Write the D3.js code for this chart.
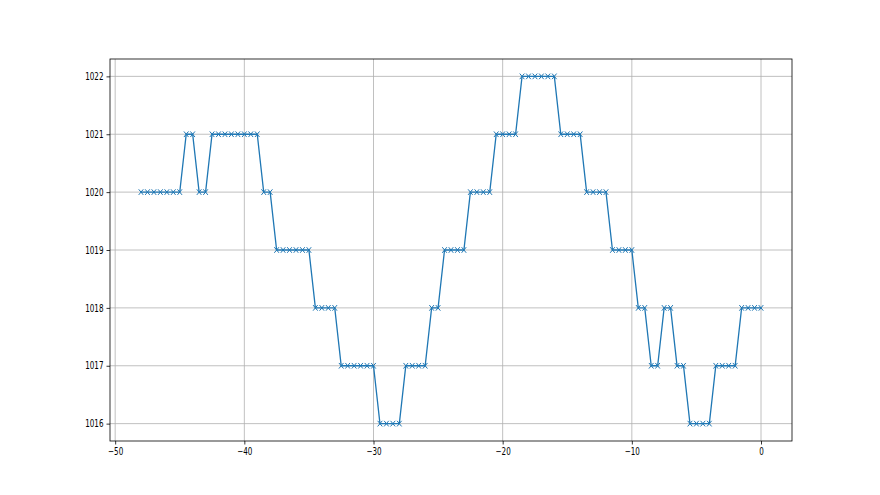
<!DOCTYPE html>
<html>
<head>
<meta charset="utf-8">
<script src="https://cdn.jsdelivr.net/npm/d3@7"></script>
<style>
body { margin: 0; background: #fff; }
svg text { font-family: "DejaVu Sans", sans-serif; font-size: 10px; fill: #000; }
</style>
</head>
<body>
<svg id="chart" width="880" height="495"></svg>
<script>
// data
var hours = [-48, -47.5, -47, -46.5, -46, -45.5, -45, -44.5, -44, -43.5, -43,
    -42.5, -42, -41.5, -41, -40.5, -40, -39.5, -39, -38.5, -38,
    -37.5, -37, -36.5, -36, -35.5, -35, -34.5, -34, -33.5, -33,
    -32.5, -32, -31.5, -31, -30.5, -30, -29.5, -29, -28.5, -28,
    -27.5, -27, -26.5, -26, -25.5, -25, -24.5, -24, -23.5, -23,
    -22.5, -22, -21.5, -21, -20.5, -20, -19.5, -19, -18.5, -18,
    -17.5, -17, -16.5, -16, -15.5, -15, -14.5, -14, -13.5, -13,
    -12.5, -12, -11.5, -11, -10.5, -10, -9.5, -9, -8.5, -8,
    -7.5, -7, -6.5, -6, -5.5, -5, -4.5, -4, -3.5, -3,
    -2.5, -2, -1.5, -1, -0.5, 0];
var pressure = [1020, 1020, 1020, 1020, 1020, 1020, 1020, 1021, 1021, 1020, 1020,
    1021, 1021, 1021, 1021, 1021, 1021, 1021, 1021, 1020, 1020,
    1019, 1019, 1019, 1019, 1019, 1019, 1018, 1018, 1018, 1018,
    1017, 1017, 1017, 1017, 1017, 1017, 1016, 1016, 1016, 1016,
    1017, 1017, 1017, 1017, 1018, 1018, 1019, 1019, 1019, 1019,
    1020, 1020, 1020, 1020, 1021, 1021, 1021, 1021, 1022, 1022,
    1022, 1022, 1022, 1022, 1021, 1021, 1021, 1021, 1020, 1020,
    1020, 1020, 1019, 1019, 1019, 1019, 1018, 1018, 1017, 1017,
    1018, 1018, 1017, 1017, 1016, 1016, 1016, 1016, 1017, 1017,
    1017, 1017, 1018, 1018, 1018, 1018];
var xTicks = [-50, -40, -30, -20, -10, 0];
var yTicks = [1016, 1017, 1018, 1019, 1020, 1021, 1022];

var data = hours.map(function(h, i){ return { x: h, y: pressure[i] }; });

// layout
var margin = { left: 110, right: 88, top: 59, bottom: 54 };
var W = 880, H = 495;
var squeeze = 0.72; // tick labels look horizontally squashed in the original
var svg = d3.select('#chart');

var x = d3.scaleLinear().domain([-50.4, 2.4]).range([margin.left, W - margin.right]);
var y = d3.scaleLinear().domain([1015.7, 1022.3]).range([H - margin.bottom, margin.top]);

// grid
svg.append('g').selectAll('line').data(xTicks).enter().append('line')
    .attr('x1', function(d){ return x(d); }).attr('x2', function(d){ return x(d); })
    .attr('y1', margin.top).attr('y2', H - margin.bottom)
    .attr('stroke', '#b0b0b0').attr('stroke-width', 0.8);
svg.append('g').selectAll('line').data(yTicks).enter().append('line')
    .attr('y1', function(d){ return y(d); }).attr('y2', function(d){ return y(d); })
    .attr('x1', margin.left).attr('x2', W - margin.right)
    .attr('stroke', '#b0b0b0').attr('stroke-width', 0.8);

// line
var line = d3.line().x(function(d){ return x(d.x); }).y(function(d){ return y(d.y); });
svg.append('path').datum(data)
    .attr('d', line).attr('fill', 'none')
    .attr('stroke', '#1f77b4').attr('stroke-width', 1.3);

// x markers
var mw = 2.3, mh = 2.8;
svg.append('g').selectAll('path.mk').data(data).enter().append('path')
    .attr('class', 'mk')
    .attr('d', function(d){
        var cx = x(d.x), cy = y(d.y);
        return 'M' + (cx - mw) + ',' + (cy - mh) + 'L' + (cx + mw) + ',' + (cy + mh) +
               'M' + (cx - mw) + ',' + (cy + mh) + 'L' + (cx + mw) + ',' + (cy - mh);
    })
    .attr('stroke', '#1f77b4').attr('stroke-width', 1).attr('fill', 'none');

// axes
var xAxis = d3.axisBottom(x).tickValues(xTicks).tickSize(3.5).tickPadding(3)
    .tickFormat(function(d){ return d < 0 ? '\u2212' + Math.abs(d) : d; });
var yAxis = d3.axisLeft(y).tickValues(yTicks).tickSize(3.5).tickPadding(3).tickFormat(d3.format('d'));

var gx = svg.append('g').attr('transform', 'translate(0,' + (H - margin.bottom) + ')').call(xAxis);
var gy = svg.append('g').attr('transform', 'translate(' + margin.left + ',0)').call(yAxis);
[gx, gy].forEach(function(g){
    g.select('.domain').remove();
    g.selectAll('.tick line').attr('stroke', '#000').attr('stroke-width', 0.8);
    g.selectAll('text').style('font-size', '10px').attr('fill', '#000');
});
gy.selectAll('text').attr('x', -6.5 / squeeze).attr('transform', 'scale(' + squeeze + ',1)');
gx.selectAll('text').attr('transform', 'scale(' + squeeze + ',1)');

// frame
svg.append('rect')
    .attr('x', margin.left).attr('y', margin.top)
    .attr('width', W - margin.left - margin.right).attr('height', H - margin.top - margin.bottom)
    .attr('fill', 'none').attr('stroke', '#000').attr('stroke-width', 0.8);
</script>
</body>
</html>
